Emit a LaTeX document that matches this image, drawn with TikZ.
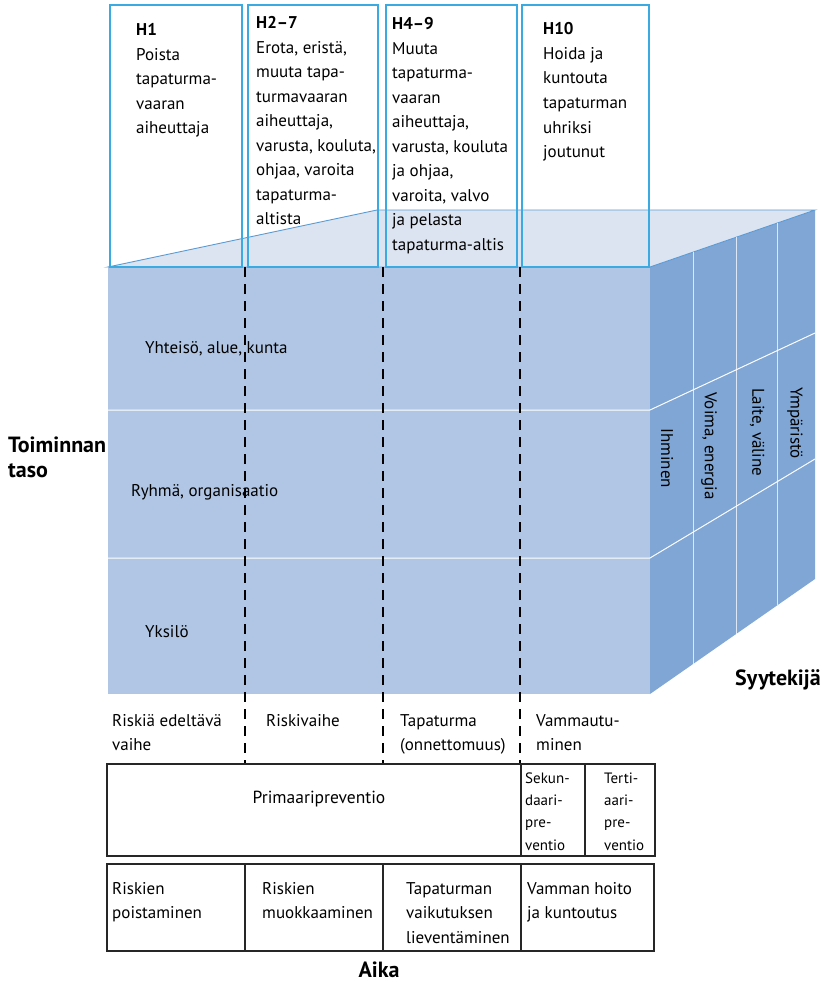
\documentclass[tikz,border=0pt]{standalone}
\usepackage{fontspec}
\setmainfont{PT Sans}
\usetikzlibrary{calc}
\definecolor{frontc}{HTML}{B0C6E4}
\definecolor{sidec}{HTML}{7FA6D4}
\definecolor{topc}{HTML}{DDE4F1}
\definecolor{edgec}{HTML}{5B9BD5}
\definecolor{boxc}{HTML}{3AAAE0}
\newcommand{\mlines}[1]{\begin{tabular}[t]{@{}l@{}}#1\end{tabular}}
\begin{document}
\begin{tikzpicture}[x=1pt,y=-1pt,
  body/.style={font=\fontsize{17}{24.5}\selectfont, inner sep=0pt, anchor=base west},
  small/.style={font=\fontsize{15}{22.4}\selectfont, inner sep=0pt, anchor=base west},
  big/.style={font=\fontsize{22}{25}\selectfont\bfseries, inner sep=0pt},
  hbox/.style={draw=boxc, line width=1.1pt},
  sep/.style={draw=white, line width=1pt},
  vsep/.style={draw=white, opacity=0.75, line width=1pt},
  dashline/.style={draw=black, line width=1.1pt, dash pattern=on 10pt off 7pt},
  tbl/.style={draw=black!85, line width=1.1pt},
]
\useasboundingbox (0,0) rectangle (825,982);
% cube corners
\coordinate (FTL) at (108,267);
\coordinate (FTR) at (650,267);
\coordinate (FBR) at (650,694);
\coordinate (BTL) at (377,210);
\coordinate (BTR) at (815,210);
\coordinate (BBR) at (815,579);
% faces
\fill[frontc] (FTL) rectangle (FBR);
\fill[sidec] (FTR) -- (BTR) -- (BBR) -- (FBR) -- cycle;
\filldraw[fill=topc, draw=edgec, line width=0.9pt] (FTL) -- (BTL) -- (BTR) -- (FTR) -- cycle;
% separators
\draw[sep] (108,410) -- (650,410) -- (815,333);
\draw[sep] (108,558) -- (650,558) -- (815,459);
\foreach \t in {0.2606,0.5212,0.7697}
  \draw[vsep] ($(FTR)!\t!(BTR)$) -- ($(FBR)!\t!(BBR)$);
% top boxes
\draw[hbox] (110,5) rectangle (242,267);
\draw[hbox] (248,5) rectangle (378,267);
\draw[hbox] (386,5) rectangle (517,267);
\draw[hbox] (522,5) rectangle (649,267);
\node[body] (h1) at (136,36) {\mlines{\textbf{H1}\\Poista\\tapaturma-\\vaaran\\aiheuttaja}};
\node[body] (h27) at (256,29) {\mlines{\textbf{H2–7}\\Erota, eristä,\\muuta tapa-\\turmavaaran\\aiheuttaja,\\varusta, kouluta,\\ohjaa, varoita\\tapaturma-\\altista}};
\node[body] (h49) at (392,30) {\mlines{\textbf{H4–9}\\Muuta\\tapaturma-\\vaaran\\aiheuttaja,\\varusta, kouluta\\ja ohjaa,\\varoita, valvo\\ja pelasta\\tapaturma-altis}};
\node[body] (h10) at (543,35) {\mlines{\textbf{H10}\\Hoida ja\\kuntouta\\tapaturman\\uhriksi\\joutunut}};
% dashed phase lines
\draw[dashline] (245,267) -- (245,764);
\draw[dashline] (383,267) -- (383,764);
\draw[dashline] (520,267) -- (520,764);
% front face labels
\node[body] (yht) at (145,353) {Yhteisö, alue, kunta};
\node[body] (ryh) at (131,496) {Ryhmä, organisaatio};
\node[body] (yks) at (145,637) {Yksilö};
% side face labels
\node[body, anchor=west, rotate=-90] (ihm) at (667,428) {Ihminen};
\node[body, anchor=west, rotate=-90] (voi) at (709,392) {Voima, energia};
\node[body, anchor=west, rotate=-90] (lai) at (757,388) {Laite, väline};
\node[body, anchor=west, rotate=-90] (ymp) at (795,387) {Ympäristö};
% axis labels
\node[big, anchor=base west, align=left] (toim) at (8,477) {Toiminnan\\taso};
\node[big, anchor=base west] (syy) at (735,685) {Syytekijä};
\node[big, anchor=base] (aika) at (379,977) {Aika};
% phase labels
\node[body] (p1) at (112,726) {\mlines{Riskiä edeltävä\\vaihe}};
\node[body] (p2) at (266,726) {Riskivaihe};
\node[body] (p3) at (400,726) {\mlines{Tapaturma\\(onnettomuus)}};
\node[body] (p4) at (536,726) {\mlines{Vammautu-\\minen}};
% prevention table
\draw[tbl] (107,764) rectangle (655,856);
\draw[tbl] (521,764) -- (521,856);
\draw[tbl] (585,764) -- (585,856);
\node[font=\fontsize{17.5}{24.5}\selectfont, inner sep=0pt, anchor=base] (prim) at (319,803) {Primaaripreventio};
\node[small] (sek) at (525,783) {\mlines{Sekun-\\daari-\\pre-\\ventio}};
\node[small] (ter) at (604,783) {\mlines{Terti-\\aari-\\pre-\\ventio}};
% action table
\draw[tbl] (107,864) rectangle (654,951);
\draw[tbl] (245,864) -- (245,951);
\draw[tbl] (383,864) -- (383,951);
\draw[tbl] (521,864) -- (521,951);
\node[body] (a1) at (112,894) {\mlines{Riskien\\poistaminen}};
\node[body] (a2) at (262,894) {\mlines{Riskien\\muokkaaminen}};
\node[body] (a3) at (406,894) {\mlines{Tapaturman\\vaikutuksen\\lieventäminen}};
\node[body] (a4) at (527,894) {\mlines{Vamman hoito\\ja kuntoutus}};
\end{tikzpicture}
\end{document}
